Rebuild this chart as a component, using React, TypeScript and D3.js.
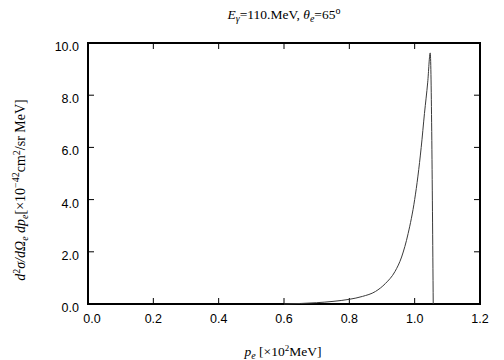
import { useEffect, useRef } from "react";
import * as d3 from "d3";

const xTicks = [0, 0.2, 0.4, 0.6, 0.8, 1.0, 1.2];
const yTicks = [0, 2, 4, 6, 8, 10];

// p_e [x10^2 MeV] and cross section
const pe = [0.6, 0.65, 0.7, 0.75, 0.8, 0.84, 0.88, 0.91, 0.94, 0.96, 0.98, 1.0, 1.01, 1.02, 1.03, 1.04, 1.0476, 1.0568];
const sigma = [0.0, 0.02, 0.05, 0.1, 0.18, 0.29, 0.48, 0.78, 1.25, 1.8, 2.7, 4.0, 4.9, 6.0, 7.3, 8.5, 9.62, 0.0];

export default function App() {
  const ref = useRef<SVGSVGElement>(null);

  useEffect(() => {
    const svg = d3.select(ref.current);
    svg.selectAll("*").remove();

    const width = 504;
    const height = 360;
    const margin = { top: 43, right: 24, bottom: 56, left: 88 };

    const x = d3.scaleLinear().domain([0, 1.2]).range([margin.left, width - margin.right]);
    const y = d3.scaleLinear().domain([0, 10]).range([height - margin.bottom, margin.top]);

    const tickFont = "'Liberation Sans', Arial, sans-serif";
    const serif = "'Liberation Serif', 'Times New Roman', serif";

    // inward ticks on all four sides
    const g = svg.append("g");
    xTicks.forEach(t => {
      g.append("line").attr("x1", x(t)).attr("x2", x(t))
        .attr("y1", y(0)).attr("y2", y(0) - 6).attr("stroke", "#000");
      g.append("line").attr("x1", x(t)).attr("x2", x(t))
        .attr("y1", y(10)).attr("y2", y(10) + 6).attr("stroke", "#000");
      g.append("text").attr("x", x(t) + (t === 0 ? 4 : 0)).attr("y", y(0) + 19)
        .attr("text-anchor", "middle").attr("font-family", tickFont).attr("font-size", 12.5)
        .text(t.toFixed(1));
    });
    yTicks.forEach(t => {
      g.append("line").attr("x1", x(0)).attr("x2", x(0) + 6)
        .attr("y1", y(t)).attr("y2", y(t)).attr("stroke", "#000");
      g.append("line").attr("x1", x(1.2)).attr("x2", x(1.2) - 6)
        .attr("y1", y(t)).attr("y2", y(t)).attr("stroke", "#000");
      g.append("text").attr("x", x(0) - 9).attr("y", y(t) + 8)
        .attr("text-anchor", "end").attr("font-family", tickFont).attr("font-size", 12.5)
        .text(t.toFixed(1));
    });

    // frame
    svg.append("rect")
      .attr("x", x(0)).attr("y", y(10))
      .attr("width", x(1.2) - x(0)).attr("height", y(0) - y(10))
      .attr("fill", "none").attr("stroke", "#000").attr("stroke-width", 2);

    // curve
    const line = d3.line<number>().x((_, i) => x(pe[i])).y(d => y(d)).curve(d3.curveMonotoneX);
    svg.append("path").datum(sigma).attr("d", line)
      .attr("fill", "none").attr("stroke", "#3a3a3a").attr("stroke-width", 1);

    // title
    const title = svg.append("text").attr("x", 284).attr("y", 19)
      .attr("text-anchor", "middle").attr("font-family", serif).attr("font-size", 13.5);
    title.append("tspan").attr("font-style", "italic").text("E");
    title.append("tspan").attr("font-style", "italic").attr("font-size", 10).attr("dy", 3).text("γ");
    title.append("tspan").attr("dy", -3).text("=110.MeV,  ");
    title.append("tspan").attr("font-style", "italic").text("θ");
    title.append("tspan").attr("font-style", "italic").attr("font-size", 10).attr("dy", 3).text("e");
    title.append("tspan").attr("dy", -3).text("=65");
    title.append("tspan").attr("font-size", 10).attr("dy", -5).text("o");

    // x label
    const xl = svg.append("text").attr("x", 283).attr("y", 356)
      .attr("text-anchor", "middle").attr("font-family", serif).attr("font-size", 13.5);
    xl.append("tspan").attr("font-style", "italic").text("p");
    xl.append("tspan").attr("font-style", "italic").attr("font-size", 10).attr("dy", 3).text("e");
    xl.append("tspan").attr("dy", -3).text(" [×10");
    xl.append("tspan").attr("font-size", 9).attr("dy", -5).text("2");
    xl.append("tspan").attr("dy", 5).text("MeV]");

    // y label
    const yl = svg.append("text").attr("transform", "translate(25,190) rotate(-90)")
      .attr("text-anchor", "middle").attr("font-family", serif).attr("font-size", 14);
    yl.append("tspan").attr("font-style", "italic").text("d");
    yl.append("tspan").attr("font-size", 10).attr("dy", -5).text("2");
    yl.append("tspan").attr("font-style", "italic").attr("dy", 5).text("σ/dΩ");
    yl.append("tspan").attr("font-style", "italic").attr("font-size", 10).attr("dy", 3).text("e");
    yl.append("tspan").attr("font-style", "italic").attr("dy", -3).text(" dp");
    yl.append("tspan").attr("font-style", "italic").attr("font-size", 10).attr("dy", 3).text("e");
    yl.append("tspan").attr("dy", -3).text("[×10");
    yl.append("tspan").attr("font-size", 10).attr("dy", -6).text("−42");
    yl.append("tspan").attr("dy", 6).text("cm");
    yl.append("tspan").attr("font-size", 10).attr("dy", -5).text("2");
    yl.append("tspan").attr("dy", 5).text("/sr MeV]");
  }, []);

  return (
    <svg ref={ref} width={504} height={360}
      style={{ position: "absolute", left: 0, top: 0, background: "#fff" }} />
  );
}
